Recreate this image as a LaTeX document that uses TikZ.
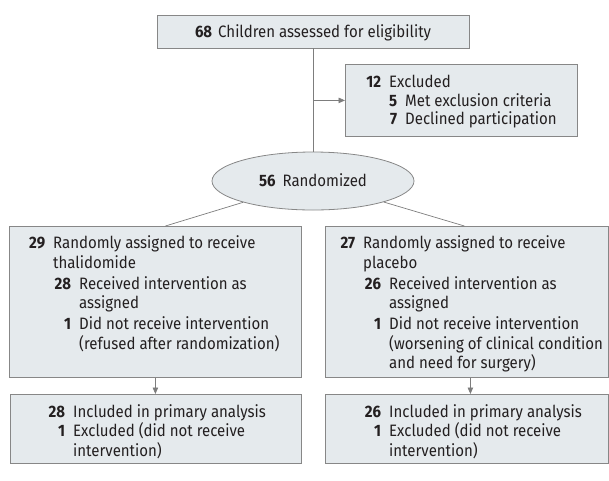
\documentclass[tikz,border=0pt]{standalone}
\usepackage{fontspec}
\setmainfont[FakeStretch=0.91]{Fira Sans}
\usetikzlibrary{arrows.meta,shapes.geometric}
\definecolor{boxfill}{RGB}{229,234,237}
\definecolor{boxline}{RGB}{135,135,135}
\definecolor{linec}{RGB}{125,125,125}
\definecolor{txtc}{RGB}{35,31,32}
\newcommand{\nA}[2][18pt]{\makebox[#1][r]{\bfseries #2}}
\newcommand{\fsbig}{\fontsize{16.5}{19.3}\selectfont}
\newcommand{\fsmid}{\fontsize{16.5}{18.5}\selectfont}
\newcommand{\fssmall}{\fontsize{16.5}{18.2}\selectfont}
\tikzset{
  box/.style={draw=boxline, fill=boxfill, line width=0.8pt, inner sep=0pt, rectangle},
  txt/.style={inner sep=0pt, anchor=base west, text=txtc},
  conn/.style={draw=linec, line width=0.7pt},
  arr/.style={conn, -{Triangle[length=6.5pt,width=5.5pt]}},
}
\begin{document}
\begin{tikzpicture}[x=1pt,y=-1pt]
\useasboundingbox (0,0) rectangle (609,480);
% top box
\node[box, minimum width=312pt, text height=22.3pt, text depth=10.7pt, anchor=base, text=txtc, font=\fsbig] (T) at (313,37.3)
  {\textbf{68}\hspace{6pt}Children assessed for eligibility};
% excluded box
\node[box, minimum width=232pt, minimum height=72pt, anchor=north west] (E) at (345,64) {};
\node[txt, font=\fsmid] (Et) at (363,87.5) {\begin{tabular}[t]{@{}l@{\hspace{8pt}}l@{}}
\nA{12} & Excluded\\
 & \begin{tabular}[t]{@{}l@{\hspace{8pt}}l@{}}
 \nA[8pt]{5} & Met exclusion criteria\\
 \nA[8pt]{7} & Declined participation
 \end{tabular}
\end{tabular}};
% randomized ellipse
\node[ellipse, draw=boxline, fill=boxfill, line width=0.8pt, inner sep=0pt, minimum width=202pt, minimum height=58pt, text height=11.4pt, text depth=0pt, text=txtc, font=\fsbig] (R) at (313,181)
  {\textbf{56}\hspace{7pt}Randomized};
% arm boxes
\node[box, minimum width=292pt, minimum height=151pt, anchor=north west] (A) at (9,226) {};
\node[box, minimum width=283pt, minimum height=151pt, anchor=north west] (B) at (325,226) {};
\node[txt, font=\fsbig] (At) at (27,248.8) {\begin{tabular}[t]{@{}l@{\hspace{8pt}}l@{}}
\nA{29} & Randomly assigned to receive\\
 & thalidomide\\[1.7pt]
 & \begin{tabular}[t]{@{}l@{\hspace{8pt}}l@{}}
 \nA{28} & Received intervention as\\
 & assigned\\[1.7pt]
 \nA{1} & Did not receive intervention\\
 & (refused after randomization)
 \end{tabular}
\end{tabular}};
\node[txt, font=\fsbig] (Bt) at (337,248.8) {\begin{tabular}[t]{@{}l@{\hspace{8pt}}l@{}}
\nA{27} & Randomly assigned to receive\\
 & placebo\\[1.7pt]
 & \begin{tabular}[t]{@{}l@{\hspace{8pt}}l@{}}
 \nA{26} & Received intervention as\\
 & assigned\\[1.7pt]
 \nA{1} & Did not receive intervention\\
 & (worsening of clinical condition\\
 & and need for surgery)
 \end{tabular}
\end{tabular}};
% analysis boxes
\node[box, minimum width=291pt, minimum height=69pt, anchor=north west] (C) at (10,394) {};
\node[box, minimum width=283pt, minimum height=69pt, anchor=north west] (D) at (325,394) {};
\node[txt, font=\fssmall] (Ct) at (47,417.5) {\begin{tabular}[t]{@{}l@{\hspace{8pt}}l@{}}
\nA{28} & Included in primary analysis\\
\nA{1} & Excluded (did not receive\\
 & intervention)
\end{tabular}};
\node[txt, font=\fssmall] (Dt) at (363,417.5) {\begin{tabular}[t]{@{}l@{\hspace{8pt}}l@{}}
\nA{26} & Included in primary analysis\\
\nA{1} & Excluded (did not receive\\
 & intervention)
\end{tabular}};
% connectors
\draw[conn] (T.south) -- (R.north);
\draw[arr] (T.south |- E.west) -- (E.west);
\draw[conn] (R) -- ([xshift=10pt]A.north);
\draw[conn] (R) -- ([xshift=-2.5pt]B.north);
\draw[arr] (A.south) -- (A.south |- C.north);
\draw[arr] ([xshift=3.5pt]B.south) -- ([xshift=3.5pt]B.south |- D.north);
\end{tikzpicture}
\end{document}
